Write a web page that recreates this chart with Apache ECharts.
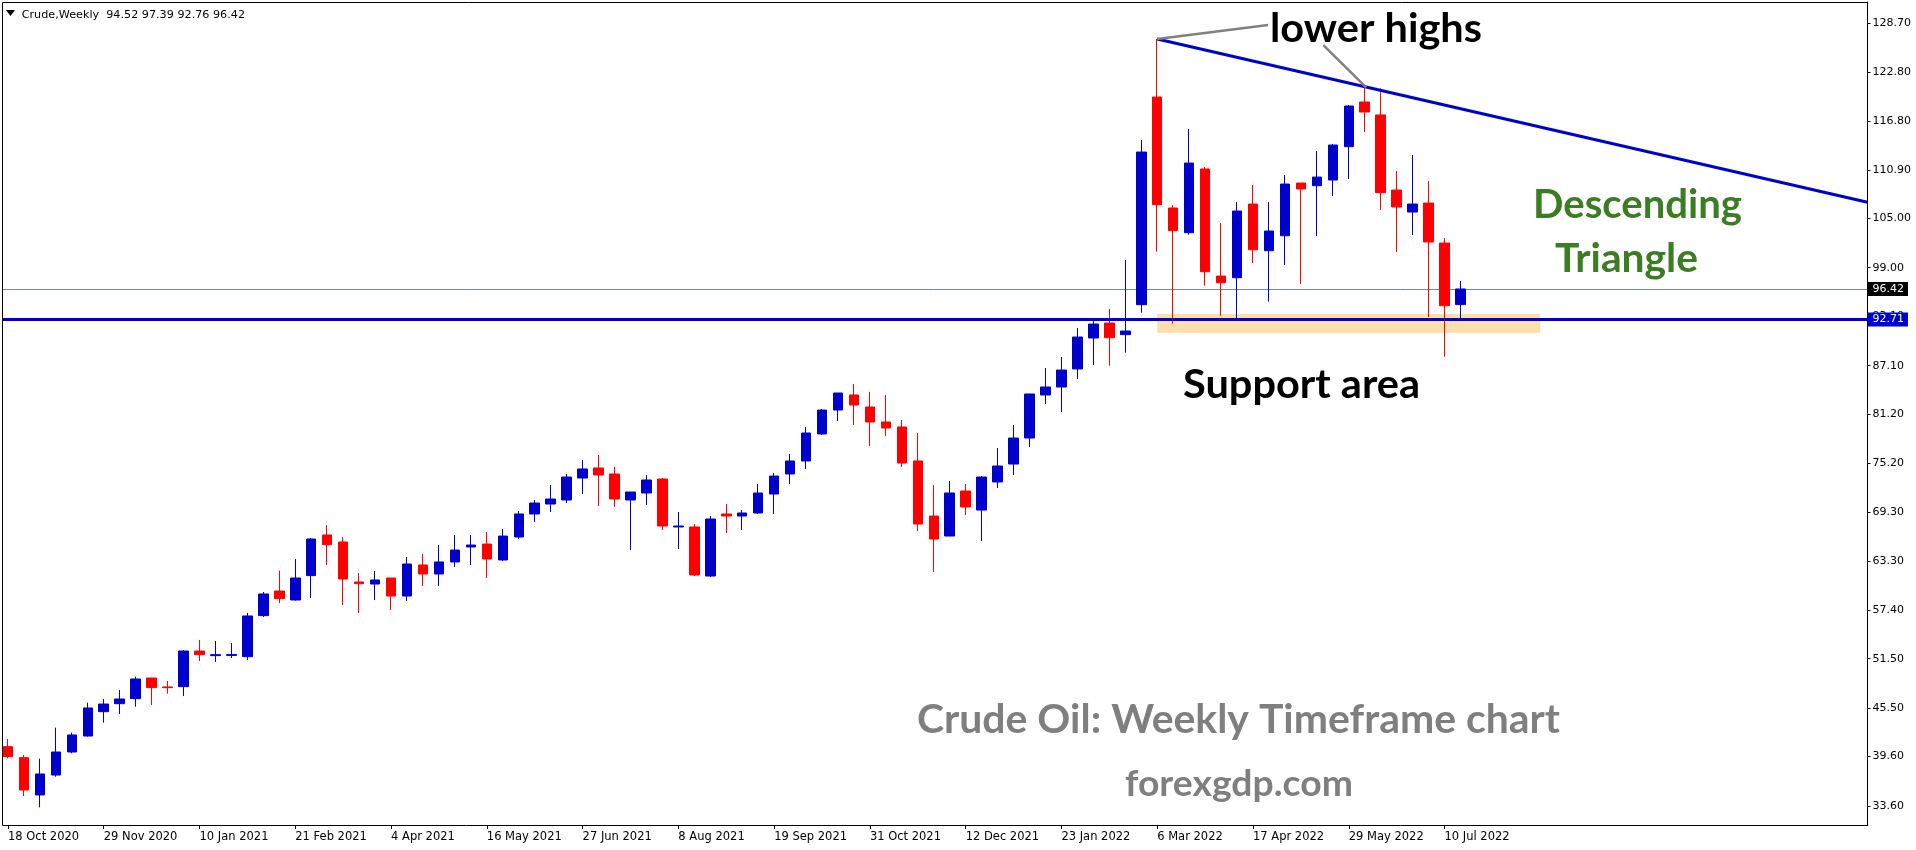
<!DOCTYPE html>
<html><head><meta charset="utf-8">
<script src="https://cdn.jsdelivr.net/npm/echarts@6/dist/echarts.min.js"></script>
<style>html,body{margin:0;padding:0;background:#fff;overflow:hidden}#c{width:1916px;height:850px}</style>
</head><body><div id="c"></div>
<script>
// ---------------- DATA ----------------
const firstWeek = '2020-10-18';
const futureWeeks = 25; // empty chart-shift space on the right
const opens  = [40.81,39.47,34.94,37.36,40.16,42.10,45.06,46.03,46.64,49.15,48.06,48.10,52.43,51.87,51.90,51.74,56.73,59.72,58.63,61.59,
                66.53,65.68,60.82,60.57,61.30,59.11,62.88,61.79,63.25,65.07,65.43,63.49,66.28,69.08,70.29,70.78,73.45,74.67,73.94,70.78,
                71.63,73.33,67.50,67.50,61.54,69.08,68.83,69.20,71.51,73.94,75.52,78.80,81.71,83.54,82.08,80.26,79.65,75.52,68.83,66.40,
                71.87,69.56,72.97,75.15,78.31,83.54,84.51,86.70,90.46,92.28,90.87,94.51,119.74,106.26,103.26,111.00,97.99,97.79,106.74,101.07,
                102.89,109.29,108.97,109.66,113.71,119.14,117.56,108.44,105.77,106.86,102.00,94.52];
const closes = [39.59,35.54,37.49,40.16,42.23,45.51,45.99,46.60,49.03,47.98,47.98,52.43,51.99,51.99,52.00,56.69,59.36,58.79,61.30,66.04,
                65.35,61.18,60.61,61.06,59.11,63.00,61.79,63.25,64.70,65.31,63.61,66.40,69.08,70.41,70.90,73.57,74.55,73.82,70.90,71.75,
                73.21,67.62,67.62,61.67,68.47,68.83,69.20,71.63,73.69,75.52,78.92,81.71,83.78,82.32,80.26,79.53,75.27,67.86,66.04,71.63,
                69.93,73.57,74.91,78.31,83.66,84.51,86.57,90.58,92.16,90.50,91.31,113.06,106.66,103.50,111.72,98.52,97.18,105.89,101.19,103.46,
                109.17,108.57,110.02,113.91,118.65,117.92,108.12,106.38,106.74,102.13,94.39,96.42];
const lows   = [39.39,34.81,33.44,37.16,40.00,42.02,43.72,44.78,45.67,45.87,47.25,46.96,51.22,51.10,51.58,51.34,56.56,58.26,58.55,58.87,
                62.88,58.02,57.05,58.63,57.41,58.51,60.33,60.33,62.64,62.88,61.30,63.37,66.04,68.11,69.32,70.41,71.51,70.05,69.93,64.70,
                70.17,67.13,64.82,61.54,61.42,66.77,67.13,69.08,69.08,72.72,74.55,78.68,80.38,79.89,77.34,78.56,74.79,67.01,62.03,66.40,
                68.96,65.80,72.24,73.82,77.22,82.44,81.47,85.48,87.18,87.10,88.68,93.54,100.95,92.20,103.02,96.82,93.17,92.65,99.57,94.88,
                99.33,97.02,102.85,107.71,109.78,115.49,106.01,100.91,102.98,93.01,88.19,92.76];
const highs  = [41.74,39.80,39.35,43.12,42.51,46.15,46.60,47.69,49.31,49.15,48.79,52.55,53.77,53.65,53.40,57.05,59.60,62.19,63.61,66.16,
                67.74,66.28,61.91,62.15,61.30,63.85,64.22,65.31,66.53,66.53,66.89,67.26,69.44,70.78,72.60,73.94,75.64,76.25,74.79,71.75,
                73.82,73.45,69.32,67.86,68.83,70.29,69.56,72.72,74.06,76.37,79.65,81.84,83.78,84.87,83.90,83.54,80.50,78.92,72.60,73.09,
                72.72,73.69,77.10,79.89,83.66,86.82,88.15,91.68,92.89,93.99,99.94,114.52,126.79,106.62,115.86,111.24,104.43,106.99,109.05,106.99,
                110.27,109.29,113.18,114.03,118.77,120.92,120.80,110.75,112.70,109.54,102.61,97.39];
const xTickLabels = ['18 Oct 2020','29 Nov 2020','10 Jan 2021','21 Feb 2021','4 Apr 2021','16 May 2021','27 Jun 2021','8 Aug 2021',
                     '19 Sep 2021','31 Oct 2021','12 Dec 2021','23 Jan 2022','6 Mar 2022','17 Apr 2022','29 May 2022','10 Jul 2022'];
const yTickValues = [33.60,39.60,45.50,51.50,57.40,63.30,69.30,75.20,81.20,87.10,93.10,99.00,105.00,110.90,116.80,122.80,128.70];
const chartTitle = 'Crude,Weekly  94.52 97.39 92.76 96.42';
const bidPrice = 96.42;
const supportLevel = 92.71;
const supportZone = {fromIdx:72, toIdx:96, low:91.11, high:93.38};
const trendLine = [[72,126.79],[116.5,106.95]];
const lowerHighPointers = [[[72,126.79],[78.95,128.49]], [[82.41,126.06],[85.09,120.92]]];

// ---------------- BUILD ----------------
const nSlots = opens.length + futureWeeks;
const t0 = Date.parse(firstWeek + 'T00:00:00Z');
const categories = [];
for (let i = 0; i < nSlots; i++) categories.push(new Date(t0 + i*7*86400000).toISOString().slice(0,10));
const candles = categories.map((d,i) => i < opens.length ? [opens[i], closes[i], lows[i], highs[i]] : '-');
const showTick = (idx) => idx % 6 === 0 && idx/6 < xTickLabels.length;

const BLUE = '#0000CD', RED = '#FF0000';
const SLOT = 16, GL = -4.5, GTOP = 2, GBOT = 25;
const gridW = nSlots * SLOT;
const AXFONT = 'DejaVu Sans';

const mctx = document.createElement('canvas').getContext('2d');
function fitText(a) {
  const fam = a.family || 'Lato', wt = a.weight || 'bold';
  mctx.font = `${wt} ${a.size}px ${fam}`;
  mctx.textBaseline = 'alphabetic';
  const w = mctx.measureText(a.text).width;
  const asc = mctx.measureText('H').actualBoundingBoxAscent;
  mctx.textBaseline = 'middle';
  const ascM = mctx.measureText('H').actualBoundingBoxAscent;
  const mid = a.baseline - (asc - ascM);
  return { type:'text', x:a.left, y:mid, scaleX:(a.right - a.left)/w, z:100, silent:true,
    style:{ text:a.text, fontFamily:fam, fontWeight:wt, fontSize:a.size, fill:a.color, align:'left', verticalAlign:'middle' } };
}
const annotations = [
  {text:'lower highs', left:1270, right:1482, baseline:41.7, size:40, color:'#000000'},
  {text:'Support area', left:1183, right:1420, baseline:397.5, size:40, color:'#000000'},
  {text:'Descending', left:1533, right:1742, baseline:218.3, size:40, color:'#3A7D22'},
  {text:'Triangle', left:1555, right:1698, baseline:272, size:40, color:'#3A7D22'},
  {text:'Crude Oil: Weekly Timeframe chart', left:917, right:1560, baseline:733, size:40, color:'#7F7F7F'},
  {text:'forexgdp.com', left:1125, right:1353, baseline:796, size:36, color:'#7F7F7F'},
  {text:chartTitle, left:21.7, right:245, baseline:17.5, size:11, color:'#000000', family:'DejaVu Sans', weight:'normal'}
];

const chart = echarts.init(document.getElementById('c'), null, {renderer:'canvas'});
const option = {
  animation: false,
  backgroundColor: '#ffffff',
  grid: { left: GL, top: GTOP, width: gridW, bottom: GBOT, containLabel: false },
  xAxis: [
    { type:'category', data:categories, boundaryGap:true,
      axisLine:{ show:true, onZero:false, lineStyle:{ color:'#000', width:1 } },
      axisTick:{ show:true, interval:showTick, alignWithLabel:true, length:4, lineStyle:{ color:'#000' } },
      axisLabel:{ interval:showTick, formatter:(v, idx) => xTickLabels[idx/6] || '', align:'left', margin:6,
                  fontFamily:AXFONT, fontSize:11.5, color:'#000' },
      splitLine:{ show:false } },
    { type:'value', min:-0.5, max:nSlots - 0.5, show:false }
  ],
  yAxis: { type:'value', position:'right', min:31.29, max:131.29, scale:true,
    axisLine:{ show:true, onZero:false, lineStyle:{ color:'#000', width:1 } },
    axisTick:{ show:true, length:3, customValues:yTickValues, lineStyle:{ color:'#000' } },
    axisLabel:{ customValues:yTickValues, formatter:v => v.toFixed(2), margin:5,
                fontFamily:AXFONT, fontSize:11, color:'#000' },
    splitLine:{ show:false } },
  series: [
    { type:'line', xAxisIndex:1, data:[], z:1, symbol:'none', silent:true,
      markArea:{ silent:true, z:1, itemStyle:{ color:'#FFDEAD' },
        data:[[{coord:[supportZone.fromIdx, supportZone.high]},{coord:[supportZone.toIdx, supportZone.low]}]] },
      markLine:{ silent:true, z:1, symbol:['none','none'], lineStyle:{ color:'#778899', width:1, type:'solid' },
        label:{ show:true, position:'end', distance:0, formatter:bidPrice.toFixed(2), color:'#fff', backgroundColor:'#000',
                padding:[2,4,1,5], fontFamily:AXFONT, fontSize:11 },
        data:[{ yAxis: bidPrice }] } },
    { type:'candlestick', data:candles, z:2, barWidth:10, silent:true,
      itemStyle:{ color:BLUE, color0:RED, borderColor:BLUE, borderColor0:RED, borderWidth:1 } },
    { type:'line', xAxisIndex:1, data:trendLine, z:3, symbol:'none', silent:true, lineStyle:{ color:BLUE, width:3 },
      markLine:{ silent:true, z:5, symbol:['none','none'], lineStyle:{ color:BLUE, width:3, type:'solid' },
        label:{ show:true, position:'end', distance:0, formatter:supportLevel.toFixed(2), color:'#fff', backgroundColor:BLUE,
                padding:[2,4,1,5], fontFamily:AXFONT, fontSize:11 },
        data:[{ yAxis: supportLevel }] } },
    ...lowerHighPointers.map(seg => ({ type:'line', xAxisIndex:1, data:seg, z:4, symbol:'none', silent:true,
        lineStyle:{ color:'#808080', width:2.5 } }))
  ],
  graphic: [
    { type:'rect', shape:{ x:0, y:0, width:2.5, height:850 }, style:{ fill:'#fff' }, z:90, silent:true },
    { type:'line', shape:{ x1:2.5, y1:2.5, x2:1867.5, y2:2.5 }, style:{ stroke:'#000', lineWidth:1 }, z:91, silent:true },
    { type:'line', shape:{ x1:2.5, y1:2.5, x2:2.5, y2:825.5 }, style:{ stroke:'#000', lineWidth:1 }, z:91, silent:true },
    { type:'polygon', shape:{ points:[[6,10],[15,10],[10.5,16]] }, style:{ fill:'#000' }, z:100, silent:true },
    ...annotations.map(fitText)
  ]
};
chart.setOption(option);
</script></body></html>
